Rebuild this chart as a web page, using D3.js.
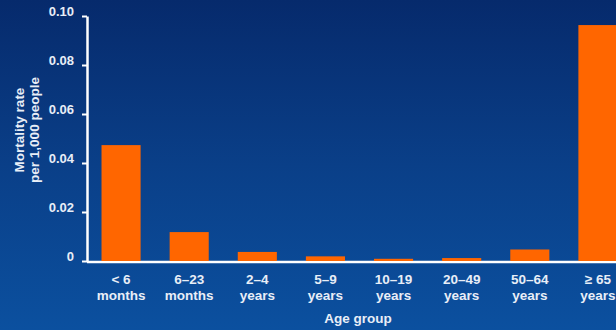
<!DOCTYPE html>
<html>
<head>
<meta charset="utf-8">
<script src="https://cdn.jsdelivr.net/npm/d3@7"></script>
<style>
  html, body { margin: 0; padding: 0; background: #0a3f88; }
  svg { display: block; font-family: "Liberation Sans", Arial, sans-serif; font-weight: bold; }
</style>
</head>
<body>
<div id="chart"></div>
<script>
// age groups, two lines each
var groupLine1 = ["< 6", "6\u201323", "2\u20134", "5\u20139", "10\u201319", "20\u201349", "50\u201364", "\u2265 65"];
var groupLine2 = ["months", "months", "years", "years", "years", "years", "years", "years"];
var mortality = [0.0473, 0.0118, 0.0037, 0.0019, 0.0009, 0.0012, 0.0047, 0.0963];
var yTicks = [0, 0.02, 0.04, 0.06, 0.08, 0.10];
var yTickLabels = ["0", "0.02", "0.04", "0.06", "0.08", "0.10"];

var W = 616, H = 330;
var margin = {top: 16, right: -16, bottom: 69, left: 87};
var width = W - margin.left - margin.right,
    height = H - margin.top - margin.bottom;
var textCol = "#e8eef7";

var svg = d3.select("#chart").append("svg")
  .attr("width", W)
  .attr("height", H);

// background gradient
var grad = svg.append("defs").append("linearGradient")
  .attr("id", "bg").attr("x1", 0).attr("y1", 0).attr("x2", 0).attr("y2", 1);
grad.append("stop").attr("offset", "0%").attr("stop-color", "#062a6c");
grad.append("stop").attr("offset", "50%").attr("stop-color", "#0a3f88");
grad.append("stop").attr("offset", "100%").attr("stop-color", "#0b509f");
svg.append("rect").attr("width", W).attr("height", H).attr("fill", "url(#bg)");

var g = svg.append("g")
  .attr("transform", "translate(" + margin.left + "," + margin.top + ")");

var x = d3.scaleBand()
  .domain(d3.range(mortality.length))
  .range([0, width])
  .paddingInner(0.426)
  .paddingOuter(0.213);

var y = d3.scaleLinear()
  .domain([0, 0.10])
  .range([height, 0]);

// baseline (under the bars)
g.append("line")
  .attr("x1", 0).attr("x2", W - margin.left)
  .attr("y1", y(0) + 1).attr("y2", y(0) + 1)
  .attr("stroke", "#ffffff").attr("stroke-width", 2.5);

// bars
g.selectAll(".bar")
  .data(mortality)
  .enter().append("rect")
  .attr("class", "bar")
  .attr("x", function(d, i) { return x(i); })
  .attr("width", x.bandwidth())
  .attr("y", function(d) { return y(d); })
  .attr("height", function(d) { return height - y(d); })
  .attr("fill", "#ff6600");

// y axis
var yAxis = g.append("g")
  .call(d3.axisLeft(y).tickValues(yTicks)
    .tickFormat(function(d, i) { return yTickLabels[i]; })
    .tickSize(5).tickPadding(8).tickSizeOuter(0));
yAxis.select(".domain").attr("stroke", "#ffffff").attr("stroke-width", 2.5);
yAxis.selectAll(".tick line").attr("stroke", "#ffffff").attr("stroke-width", 2);
yAxis.selectAll(".tick text")
  .attr("fill", textCol)
  .attr("dy", "-0.05em")
  .style("font-size", "13px")
  .style("font-weight", "bold")
  .style("font-family", "Liberation Sans, Arial, sans-serif");

// category labels
var lab = g.selectAll(".xlab")
  .data(mortality)
  .enter().append("text")
  .attr("class", "xlab")
  .attr("text-anchor", "middle")
  .attr("fill", textCol)
  .style("font-size", "13.5px")
  .attr("transform", function(d, i) { return "translate(" + (x(i) + x.bandwidth() / 2) + "," + (height + 23) + ")"; });
lab.append("tspan").attr("x", 0).attr("y", 0).text(function(d, i) { return groupLine1[i]; });
lab.append("tspan").attr("x", 0).attr("y", 16).text(function(d, i) { return groupLine2[i]; });

// axis titles
var yt = svg.append("text")
  .attr("transform", "translate(29,130) rotate(-90)")
  .attr("text-anchor", "middle")
  .attr("fill", textCol)
  .style("font-size", "13.5px");
yt.append("tspan").attr("x", 0).attr("y", -5).text("Mortality rate");
yt.append("tspan").attr("x", 0).attr("y", 10).text("per 1,000 people");

svg.append("text")
  .attr("x", 358)
  .attr("y", 323)
  .attr("text-anchor", "middle")
  .attr("fill", textCol)
  .style("font-size", "13.5px")
  .text("Age group");
</script>
</body>
</html>
